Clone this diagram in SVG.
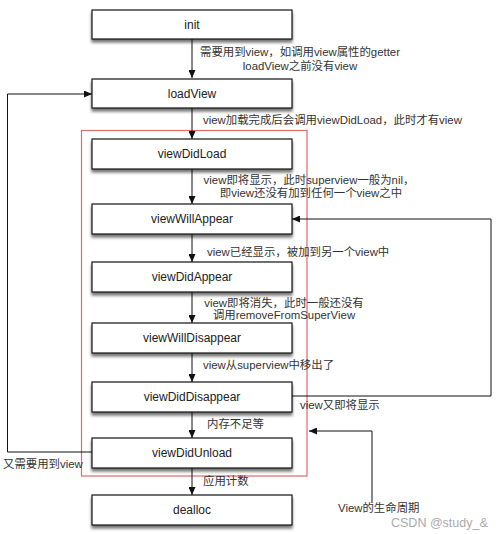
<svg xmlns="http://www.w3.org/2000/svg" width="500" height="534" viewBox="0 0 500 534">
<defs>
<style>
.box{fill:#fff;stroke:#111;stroke-width:1.2;filter:url(#sh)}
.bt{font-family:"Liberation Sans","Noto Sans CJK SC",sans-serif;font-size:12px;fill:#222;text-anchor:middle}
.lb{font-family:"Liberation Sans","Noto Sans CJK SC",sans-serif;font-size:11.4px;fill:#333}
.c{fill:none;stroke:#111;stroke-width:1;marker-end:url(#ah)}
</style>
<filter id="sh" x="-10%" y="-30%" width="120%" height="180%">
<feDropShadow dx="0" dy="3" stdDeviation="1.8" flood-color="#000" flood-opacity="0.55"/>
</filter>
<marker id="ah" markerWidth="8" markerHeight="7" refX="8" refY="3.5" orient="auto" markerUnits="userSpaceOnUse">
<path d="M0,0 L8,3.5 L0,7 z" fill="#111"/>
</marker>
</defs>
<rect width="500" height="534" fill="#fff"/>
<rect id="lifecycle-frame" x="81.5" y="130.5" width="225.5" height="345.5" fill="none" stroke="#e06a6a" stroke-width="1.2"/>
<g id="connectors">
<path class="c" d="M192,39 V78"/>
<path class="c" d="M192,108 V139"/>
<path class="c" d="M192,169 V204"/>
<path class="c" d="M192,234 V262"/>
<path class="c" d="M192,292 V323"/>
<path class="c" d="M192,353 V382"/>
<path class="c" d="M192,412 V438"/>
<path class="c" d="M192,468 V495"/>
<path class="c" d="M92,452 H7.5 V94 H92"/>
<path class="c" d="M292,396 H491 V219 H292"/>
<path class="c" d="M372,503 V431 H309"/>
</g>
<g id="n-init"><rect class="box" x="92" y="10" width="200" height="29"/><text class="bt" x="192" y="29">init</text></g>
<g id="n-loadView"><rect class="box" x="92" y="79" width="200" height="29"/><text class="bt" x="192" y="98">loadView</text></g>
<g id="n-viewDidLoad"><rect class="box" x="92" y="139" width="200" height="30"/><text class="bt" x="192" y="158">viewDidLoad</text></g>
<g id="n-viewWillAppear"><rect class="box" x="92" y="204" width="200" height="30"/><text class="bt" x="192" y="223">viewWillAppear</text></g>
<g id="n-viewDidAppear"><rect class="box" x="92" y="262" width="200" height="30"/><text class="bt" x="192" y="281">viewDidAppear</text></g>
<g id="n-viewWillDisappear"><rect class="box" x="92" y="323" width="200" height="30"/><text class="bt" x="192" y="342">viewWillDisappear</text></g>
<g id="n-viewDidDisappear"><rect class="box" x="92" y="382" width="200" height="30"/><text class="bt" x="192" y="401">viewDidDisappear</text></g>
<g id="n-viewDidUnload"><rect class="box" x="92" y="438" width="200" height="30"/><text class="bt" x="192" y="457">viewDidUnload</text></g>
<g id="n-dealloc"><rect class="box" x="92" y="495" width="200" height="30"/><text class="bt" x="192" y="514">dealloc</text></g>
<g id="labels">
<text class="lb" x="300" y="56" text-anchor="middle">需要用到view，如调用view属性的getter</text>
<text class="lb" x="300" y="70" text-anchor="middle">loadView之前没有view</text>
<text class="lb" x="203" y="124">view加载完成后会调用viewDidLoad，此时才有view</text>
<text class="lb" x="309" y="184" text-anchor="middle">view即将显示，此时superview一般为nil，</text>
<text class="lb" x="311" y="197" text-anchor="middle">即view还没有加到任何一个view之中</text>
<text class="lb" x="207" y="256">view已经显示，被加到另一个view中</text>
<text class="lb" x="284" y="307" text-anchor="middle">view即将消失，此时一般还没有</text>
<text class="lb" x="284" y="319" text-anchor="middle">调用removeFromSuperView</text>
<text class="lb" x="203" y="369">view从superview中移出了</text>
<text class="lb" x="300" y="409">view又即将显示</text>
<text class="lb" x="207" y="428">内存不足等</text>
<text class="lb" x="3" y="468">又需要用到view</text>
<text class="lb" x="203" y="485">应用计数</text>
<text class="lb" x="338" y="512">View的生命周期</text>
<text x="391" y="527" font-family="Liberation Sans,sans-serif" font-size="12.5px" fill="#aaa">CSDN @study_&amp;</text>
</g>
</svg>
